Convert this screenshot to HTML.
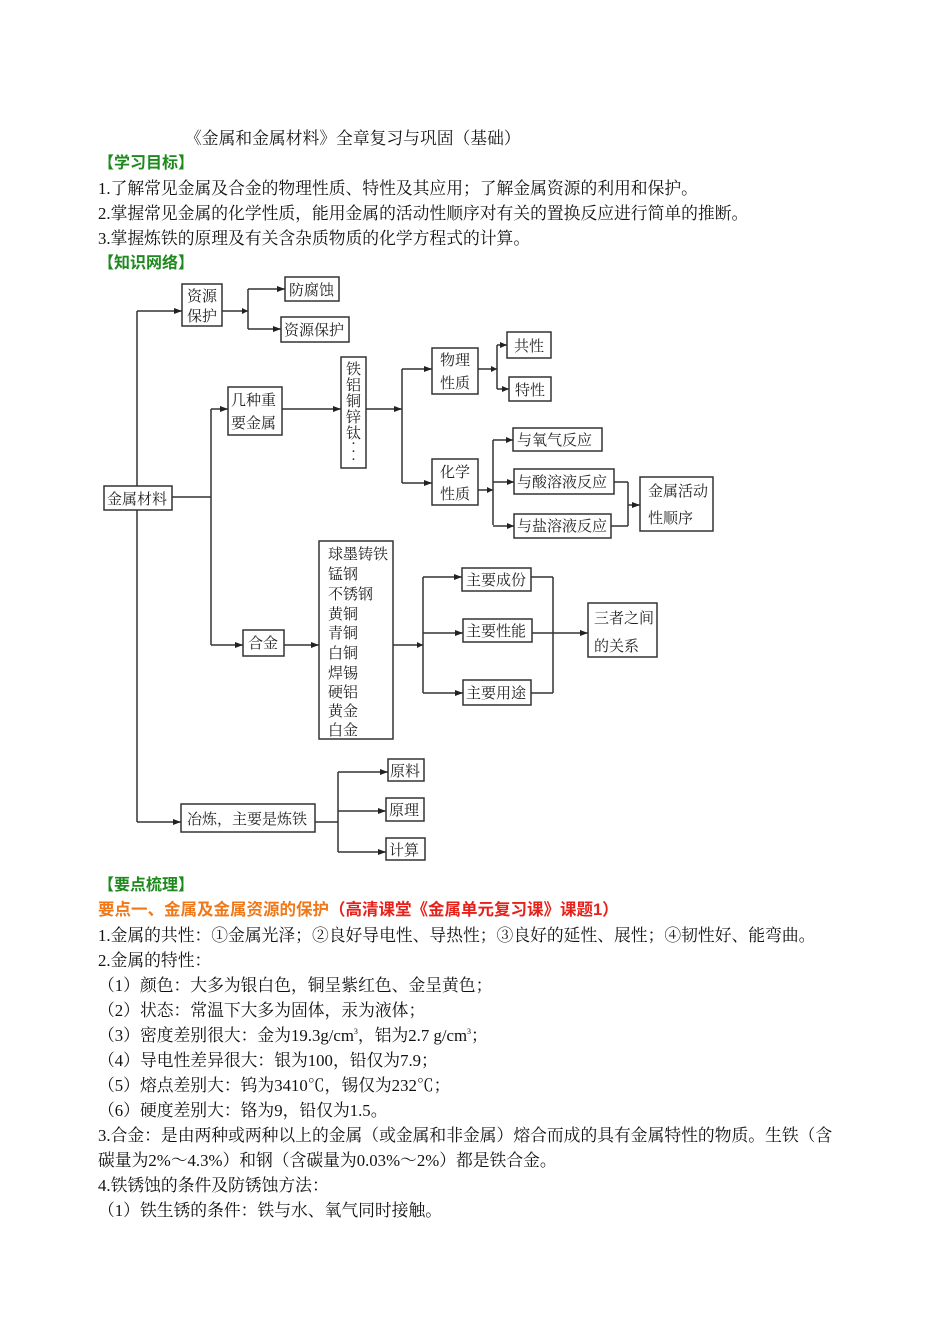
<!DOCTYPE html>
<html><head><meta charset="utf-8"><style>
body{margin:0;background:#fff;}
#p{position:relative;width:950px;height:1344px;overflow:hidden;font-family:"Liberation Serif","Noto Serif CJK SC",serif;font-size:16.8px;color:#111;}
.l{position:absolute;left:98px;line-height:25px;height:25px;white-space:nowrap;margin-top:2px;}
.g{color:#1e8a1e;font-weight:bold;font-family:"Liberation Sans","Noto Sans CJK SC",sans-serif;font-size:16px;}
.o{color:#f07818;font-weight:bold;font-family:"Liberation Sans","Noto Sans CJK SC",sans-serif;font-size:16.5px;}
.r{color:#e8201a;}
sup{font-size:8px;line-height:0;vertical-align:7px;}
svg{position:absolute;left:0;top:0;}
svg text{font-family:"Liberation Serif","Noto Serif CJK SC",serif;font-size:15px;fill:#222;}
</style></head><body><div id="p">
<div class="l" style="left:185px;top:124px">《金属和金属材料》全章复习与巩固（基础）</div>
<div class="l g" style="top:149px">【学习目标】</div>
<div class="l" style="top:174px">1.了解常见金属及合金的物理性质、特性及其应用；了解金属资源的利用和保护。</div>
<div class="l" style="top:199px">2.掌握常见金属的化学性质，能用金属的活动性顺序对有关的置换反应进行简单的推断。</div>
<div class="l" style="top:224px">3.掌握炼铁的原理及有关含杂质物质的化学方程式的计算。</div>
<div class="l g" style="top:249px">【知识网络】</div>

<svg width="950" height="1344" viewBox="0 0 950 1344">
<g stroke="#333" stroke-width="1.5" fill="none">
<rect x="104" y="486" width="68" height="24"/>
<rect x="182" y="284" width="40" height="42"/>
<rect x="285" y="277" width="54" height="24"/>
<rect x="281" y="317" width="68" height="25"/>
<rect x="228" y="387" width="54" height="48"/>
<rect x="341" y="357" width="25" height="111"/>
<rect x="432" y="348" width="46" height="46"/>
<rect x="432" y="459" width="46" height="46"/>
<rect x="507" y="332" width="44" height="26"/>
<rect x="509" y="377" width="42" height="24"/>
<rect x="513" y="428" width="89" height="23"/>
<rect x="514" y="469" width="100" height="25"/>
<rect x="514" y="514" width="97" height="24"/>
<rect x="640" y="477" width="73" height="54"/>
<rect x="243" y="630" width="41" height="26"/>
<rect x="319" y="541" width="74" height="198"/>
<rect x="462" y="568" width="69" height="23"/>
<rect x="463" y="619" width="69" height="23"/>
<rect x="463" y="680" width="68" height="25"/>
<rect x="588" y="603" width="69" height="54"/>
<rect x="181" y="804" width="134" height="28"/>
<rect x="388" y="759" width="36" height="22"/>
<rect x="386" y="798" width="38" height="23"/>
<rect x="386" y="838" width="39" height="22"/>
<path d="M137,311V486M137,510V822M137,311H182"/>
<path d="M222,311H248M248,289V329M248,289H285M248,329H281"/>
<path d="M172,497H211M211,409V645M211,409H228M211,645H243"/>
<path d="M282,409H341M366,409H402M402,369V483M402,369H432M402,483H432"/>
<path d="M478,369H497M497,345V389M497,345H507M497,389H509"/>
<path d="M478,490H493M493,440V525M493,440H513M493,482H514M493,526H514"/>
<path d="M614,482H628M611,526H628M628,482V526M628,505H640"/>
<path d="M284,645H319M393,645H423M423,577V693M423,577H462M423,633H463M423,693H463"/>
<path d="M531,577H553M532,633H553M531,693H553M553,577V693M553,633H588"/>
<path d="M137,822H181M315,822H338M338,772V852M338,772H388M338,811H386M338,852H386"/>
</g>
<g fill="#222">
<path d="M182,311l-8,-3v6z M285,289l-8,-3v6z M281,329l-8,-3v6z M228,409l-8,-3v6z M243,645l-8,-3v6z M341,409l-8,-3v6z M402,409l-8,-3v6z M432,369l-8,-3v6z M432,483l-8,-3v6z M507,345l-7,-3v6z M509,389l-7,-3v6z M513,440l-7,-3v6z M514,482l-7,-3v6z M514,526l-7,-3v6z M640,505l-8,-3v6z M319,645l-8,-3v6z M462,577l-8,-3v6z M463,633l-8,-3v6z M463,693l-8,-3v6z M588,633l-8,-3v6z M181,822l-8,-3v6z M388,772l-8,-3v6z M386,811l-8,-3v6z M386,852l-8,-3v6z M248,311l-6,-3v6z M497,369l-6,-3v6z M493,490l-6,-3v6z M423,645l-6,-3v6z"/>
</g>
<text x="107" y="504">金属材料</text>
<text x="187" y="301">资源</text><text x="187" y="321">保护</text>
<text x="289" y="295">防腐蚀</text>
<text x="284" y="335">资源保护</text>
<text x="231" y="405">几种重</text><text x="231" y="428">要金属</text>
<text x="346" y="374">铁</text><text x="346" y="390">铝</text><text x="346" y="406">铜</text><text x="346" y="422">锌</text><text x="346" y="438">钛</text>
<text x="351" y="448">·</text><text x="351" y="456">·</text><text x="351" y="464">·</text>
<text x="440" y="365">物理</text><text x="440" y="388">性质</text>
<text x="440" y="477">化学</text><text x="440" y="499">性质</text>
<text x="514" y="351">共性</text>
<text x="515" y="395">特性</text>
<text x="517" y="445">与氧气反应</text>
<text x="517" y="487">与酸溶液反应</text>
<text x="517" y="531">与盐溶液反应</text>
<text x="648" y="496">金属活动</text><text x="648" y="523">性顺序</text>
<text x="248" y="648">合金</text>
<text x="328" y="559">球墨铸铁</text><text x="328" y="579">锰钢</text><text x="328" y="599">不锈钢</text><text x="328" y="619">黄铜</text><text x="328" y="638">青铜</text><text x="328" y="658">白铜</text><text x="328" y="678">焊锡</text><text x="328" y="697">硬铝</text><text x="328" y="716">黄金</text><text x="328" y="735">白金</text>
<text x="466" y="585">主要成份</text>
<text x="466" y="636">主要性能</text>
<text x="466" y="698">主要用途</text>
<text x="594" y="623">三者之间</text><text x="594" y="651">的关系</text>
<text x="187" y="824">冶炼，主要是炼铁</text>
<text x="390" y="776">原料</text>
<text x="389" y="815">原理</text>
<text x="389" y="855">计算</text>
</svg>

<div class="l g" style="top:871px">【要点梳理】</div>
<div class="l o" style="top:896px">要点一、金属及金属资源的保护<span class="r">（高清课堂《金属单元复习课》课题1）</span></div>
<div class="l" style="top:921px">1.金属的共性：①金属光泽；②良好导电性、导热性；③良好的延性、展性；④韧性好、能弯曲。</div>
<div class="l" style="top:946px">2.金属的特性：</div>
<div class="l" style="top:971px">（1）颜色：大多为银白色，铜呈紫红色、金呈黄色；</div>
<div class="l" style="top:996px">（2）状态：常温下大多为固体，汞为液体；</div>
<div class="l" style="top:1021px">（3）密度差别很大：金为19.3g/cm<sup>3</sup>，铝为2.7 g/cm<sup>3</sup>；</div>
<div class="l" style="top:1046px">（4）导电性差异很大：银为100，铅仅为7.9；</div>
<div class="l" style="top:1071px">（5）熔点差别大：钨为3410℃，锡仅为232℃；</div>
<div class="l" style="top:1096px">（6）硬度差别大：铬为9，铅仅为1.5。</div>
<div class="l" style="top:1121px">3.合金：是由两种或两种以上的金属（或金属和非金属）熔合而成的具有金属特性的物质。生铁（含</div>
<div class="l" style="top:1146px">碳量为2%～4.3%）和钢（含碳量为0.03%～2%）都是铁合金。</div>
<div class="l" style="top:1171px">4.铁锈蚀的条件及防锈蚀方法：</div>
<div class="l" style="top:1196px">（1）铁生锈的条件：铁与水、氧气同时接触。</div>
</div></body></html>
